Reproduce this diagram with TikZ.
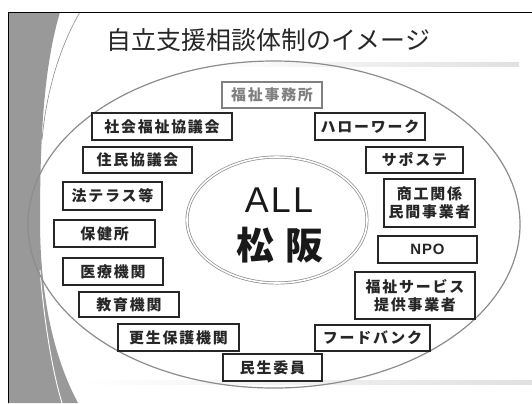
\documentclass[tikz,border=0pt]{standalone}
\usepackage{fontspec}
\setmainfont{Noto Sans CJK JP}
\newfontfamily\boxfont[LetterSpace=12]{Noto Sans CJK JP}
\newfontfamily\latinfont[LetterSpace=6]{Liberation Sans}
\usetikzlibrary{shapes.geometric}
\definecolor{band}{gray}{0.6}
\definecolor{rim}{gray}{0.55}
\tikzset{
  org/.style={draw=black!85, line width=1.1bp, fill=white, inner sep=0pt,
    font=\boxfont\fontsize{15}{18}\selectfont\bfseries, text=black!85, align=center},
  orgdim/.style={org, draw=black!50, text=black!50},
}
\begin{document}
\begin{tikzpicture}[x=1bp,y=-1bp]
\useasboundingbox (0,0) rectangle (532,403);
\fill[white] (0,0) rectangle (532,403);
% left band decoration
\fill[band] (8,12) -- (60,12) .. controls (46,60) and (40,120) .. (40,220)
  .. controls (40,300) and (55,360) .. (78,403) -- (8,403) -- cycle;
\draw[white, line width=0.9bp] (40,270) .. controls (44,320) and (52,370) .. (62,403);
\draw[black!45, line width=0.6bp] (80,12) .. controls (58,50) and (46,95) .. (42,140);
% frame
\draw[black, line width=1bp] (8,403) -- (8,12) -- (532,12);
% horizontal rules
\shade[left color=white, right color=black!12] (200,62) rectangle (519,66);
\shade[left color=white, right color=black!12] (80,380) rectangle (532,384);
% title
\node[font=\fontsize{25}{28}\selectfont, text=black!85] (title) at (268.5,40) {自立支援相談体制のイメージ};
% outer ellipse
\node[ellipse, draw=rim, line width=1.2bp, minimum width=492bp, minimum height=327bp, inner sep=0pt] (outer) at (274,224.5) {};
% inner double ellipse
\node[ellipse, draw=black!45, double=white, double distance=1.6bp, line width=0.7bp, minimum width=180bp, minimum height=126bp, inner sep=0pt] (inner) at (277,220) {};
\node[font=\latinfont\fontsize{36}{40}\selectfont, text=black!90] (all) at (279,200) {ALL};
\node[font=\fontsize{38}{42}\selectfont\bfseries, text=black!90] (matsusaka) at (280,245) {松\hspace{12bp}阪};
% boxes
\node[orgdim, minimum width=100bp, minimum height=26bp] (fukushi) at (272,95) {福祉事務所};
\node[org, minimum width=140bp, minimum height=27bp] (shakyo) at (162,126.5) {社会福祉協議会};
\node[org, minimum width=110bp, minimum height=27bp] (hello) at (370,126.5) {ハローワーク};
\node[org, minimum width=109bp, minimum height=26bp] (jumin) at (137.5,160) {住民協議会};
\node[org, minimum width=97bp, minimum height=26bp] (sapo) at (414.5,160) {サポステ};
\node[org, minimum width=99bp, minimum height=28bp] (hoterasu) at (112.5,196) {法テラス等};
\node[org, minimum width=91bp, minimum height=48bp] (shoko) at (429.5,203) {商工関係\\民間事業者};
\node[org, minimum width=101bp, minimum height=27bp] (hoken) at (104.5,233.5) {保健所};
\node[org, minimum width=99bp, minimum height=27bp, font=\latinfont\fontsize{15}{17}\selectfont\bfseries] (npo) at (427.5,249.5) {NPO};
\node[org, minimum width=100bp, minimum height=27bp] (iryo) at (113,271.5) {医療機関};
\node[org, minimum width=120bp, minimum height=47bp] (service) at (415,295.5) {福祉サービス\\提供事業者};
\node[org, minimum width=100bp, minimum height=25bp] (kyoiku) at (129,304.5) {教育機関};
\node[org, minimum width=121bp, minimum height=27bp] (kosei) at (178.5,337.5) {更生保護機関};
\node[org, minimum width=115bp, minimum height=26bp] (food) at (372.5,338) {フードバンク};
\node[org, minimum width=99bp, minimum height=27bp] (minsei) at (272.5,367.5) {民生委員};
\end{tikzpicture}
\end{document}
